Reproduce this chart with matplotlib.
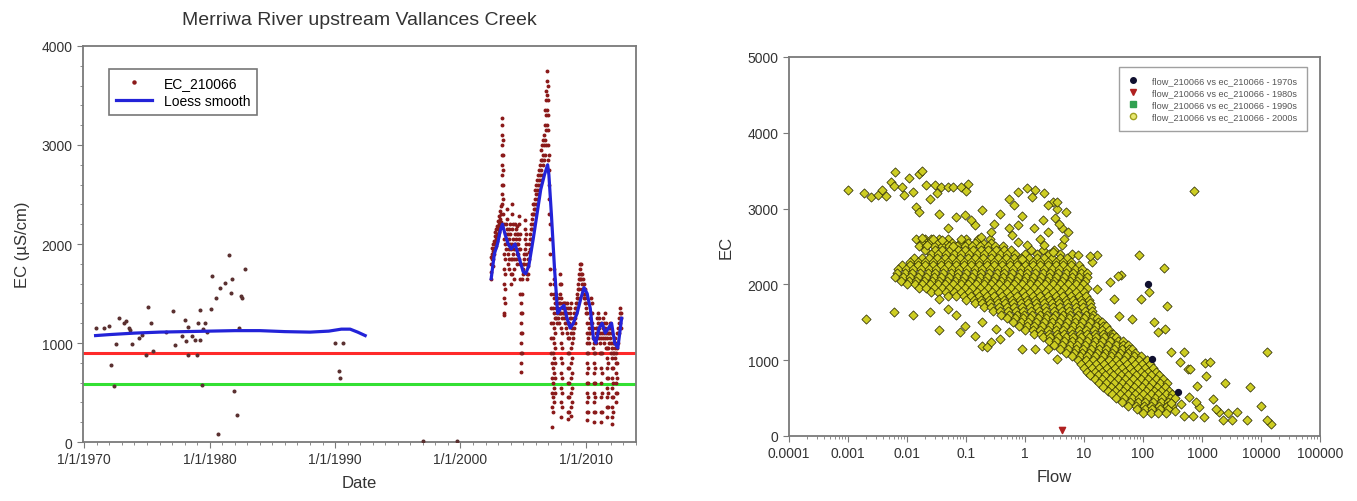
import numpy as np
import matplotlib
matplotlib.use("Agg")
import matplotlib.pyplot as plt
from matplotlib.lines import Line2D
from matplotlib.ticker import FixedLocator, MultipleLocator, LogLocator, NullFormatter

plt.rcParams['font.family'] = ['Liberation Sans', 'DejaVu Sans']

# ---------------- left panel: EC time series ----------------
early_years = [1970.95, 1971.6, 1971.96, 1972.15, 1972.36, 1972.5, 1972.76, 1973.15, 1973.3,
               1973.55, 1973.65, 1973.8, 1974.4, 1974.6, 1974.9, 1975.1, 1975.3, 1975.5, 1976.5,
               1977.1, 1977.2, 1977.8, 1978.0, 1978.1, 1978.25, 1978.3, 1978.6, 1978.85, 1978.98,
               1979.1, 1979.25, 1979.25, 1979.4, 1979.5, 1979.6, 1979.8, 1980.1, 1980.2, 1980.5,
               1980.7, 1980.8, 1981.2, 1981.55, 1981.7, 1981.75, 1981.9, 1982.2, 1982.35, 1982.5,
               1982.6, 1982.8, 1990.03, 1990.64, 1990.3, 1990.43, 1997.0, 1999.7]
early_ec = [1147, 1154, 1171, 775, 561, 995, 1256, 1198, 1221,
            1154, 1130, 995, 1046, 1080, 876, 1367, 1198, 920, 1107,
            1323, 978, 1073, 1232, 1018, 1164, 876, 1073, 1028, 876,
            1198, 1333, 1028, 579, 1140, 1198, 1107, 1343, 1672, 1452,
            81, 1553, 1611, 1885, 1503, 1648, 511, 274, 1147, 1479,
            1459, 1749, 1002, 1002, 718, 647, 10, 10]

# recent record, read as vertical streaks of readings (year, readings)
streak_years = [2002.45, 2002.52, 2002.6, 2002.68, 2002.76, 2002.84, 2002.92, 2003.0, 2003.08,
                2003.16, 2003.24, 2003.32, 2003.4, 2003.48, 2003.56, 2003.64, 2003.72, 2003.8,
                2003.88, 2003.96, 2004.04, 2004.12, 2004.2, 2004.28, 2004.36, 2004.44, 2004.52,
                2004.6, 2004.68, 2004.76, 2004.84, 2004.92, 2005.0, 2005.08, 2005.16, 2005.24,
                2005.32, 2005.4, 2005.48, 2005.56, 2005.64, 2005.72, 2005.8, 2005.88, 2005.96,
                2006.04, 2006.12, 2006.2, 2006.28, 2006.36, 2006.44, 2006.52, 2006.6, 2006.68,
                2006.76, 2006.84, 2006.92, 2007.0, 2007.08, 2007.16, 2007.24, 2007.32, 2007.4,
                2007.48, 2007.56, 2007.64, 2007.72, 2007.8, 2007.88, 2007.96, 2008.04, 2008.12,
                2008.2, 2008.28, 2008.36, 2008.44, 2008.52, 2008.6, 2008.68, 2008.76, 2008.84,
                2008.92, 2009.0, 2009.08, 2009.16, 2009.24, 2009.32, 2009.4, 2009.48, 2009.56,
                2009.64, 2009.72, 2009.8, 2009.88, 2009.96, 2010.04, 2010.12, 2010.2, 2010.28,
                2010.36, 2010.44, 2010.52, 2010.6, 2010.68, 2010.76, 2010.84, 2010.92, 2011.0,
                2011.08, 2011.16, 2011.24, 2011.32, 2011.4, 2011.48, 2011.56, 2011.64, 2011.72,
                2011.8, 2011.88, 2011.96, 2012.04, 2012.12, 2012.2, 2012.28, 2012.36, 2012.44,
                2012.52, 2012.6, 2012.68, 2012.76, 2012.84]
streak_ec = [[1650, 1720, 1800, 1870], [1900, 1960, 1850], [1780, 1850, 1930, 2000], [1950, 2030, 1900],
             [2000, 2080, 1960, 2120], [2050, 2150, 1980], [2100, 2180, 2030], [2150, 2230, 2080],
             [2200, 2280, 2120], [2250, 2180, 2330], [2300, 2220, 2380],
             [2400, 2500, 2600, 2700, 2800, 2900, 3000, 3100, 3200, 3270],
             [3050, 2900, 2750, 2600, 2450, 2300],
             [2200, 2050, 1900, 1750, 1600, 1450, 1300, 1280],
             [1400, 1550, 1700, 1850, 2000], [2100, 2200, 1950], [2250, 2350, 2150, 2050],
             [2000, 1900, 1800, 2100], [1750, 1850, 1950, 2050, 2150], [2200, 2100, 2000],
             [1950, 1850, 1700, 1600], [1700, 1850, 2000, 2150, 2300, 2400], [2200, 2050, 1900],
             [1850, 1750, 1650, 1950], [2000, 2100, 2200], [2150, 2050, 1950, 1850],
             [1800, 1900, 2000, 2100, 2180], [2100, 2000, 1900], [1850, 1950, 2050, 2200, 2280],
             [2100, 1950, 1800, 1650, 1500], [1400, 1300, 1200, 1100, 1000, 900, 800, 710],
             [900, 1100, 1300, 1500, 1650], [1700, 1800, 1750], [1800, 1900, 1850],
             [1950, 2050, 2150, 2240], [2100, 2000, 1900], [1800, 1700, 1650], [1700, 1780, 1850],
             [1850, 1920, 2000], [1950, 2050, 2100], [2050, 2150, 2200], [2150, 2250, 2300],
             [2200, 2300, 2400], [2300, 2400, 2350], [2350, 2450, 2550], [2400, 2500, 2600],
             [2450, 2550, 2650], [2500, 2600, 2700], [2550, 2650, 2750], [2600, 2700, 2800],
             [2650, 2750, 2850, 2950], [2700, 2850, 3000], [2800, 2900, 3050], [2850, 3000, 3100],
             [2900, 3050, 3200, 3350], [3000, 3150, 3300, 3450, 3550], [3200, 3350, 3500, 3650, 3750],
             [3600, 3450, 3300, 3150, 3000, 2850], [2900, 2750, 2600, 2450, 2300],
             [2200, 2050, 1900, 1750, 1600], [1500, 1350, 1200, 1050, 900], [800, 650, 500, 350, 150],
             [300, 450, 600, 750, 900, 1050, 1200, 1350],
             [1500, 1650, 1750, 1600, 1450, 1300, 1150, 1000, 850, 700, 550, 400],
             [500, 650, 800, 950, 1100, 1250, 1400], [1400, 1500, 1350, 1250], [1300, 1400, 1200],
             [1250, 1350, 1450], [1400, 1300, 1200], [1300, 1400, 1500, 1600, 1700],
             [1600, 1450, 1300, 1150, 1000, 850, 700, 550, 400, 250],
             [350, 500, 650, 800, 950, 1100, 1250], [1300, 1400, 1350], [1400, 1300, 1250],
             [1200, 1300, 1400], [1350, 1250, 1150], [1100, 1200, 1300, 1400],
             [1350, 1200, 1050, 900, 750, 600, 450, 300, 230], [300, 450, 600, 750, 900, 1050, 1200],
             [1250, 1350, 1300], [1400, 1250, 1100, 950, 800, 650, 500, 350, 260],
             [400, 550, 700, 850, 1000, 1150], [1100, 1200, 1050], [1150, 1250, 1300],
             [1250, 1350, 1200], [1300, 1400, 1350], [1400, 1500, 1450], [1450, 1550, 1600],
             [1550, 1650, 1700], [1650, 1750, 1800], [1700, 1800, 1650], [1600, 1700, 1550],
             [1550, 1650, 1500], [1500, 1600, 1450], [1450, 1550, 1400], [1400, 1500, 1350, 1300],
             [1300, 1200, 1100, 1000, 900, 800, 700, 600, 500, 400, 300, 220],
             [300, 450, 600, 750, 900, 1050], [1000, 1100, 1150], [1100, 1200, 1250],
             [1150, 1300, 1450], [1400, 1300, 1200], [1150, 1050, 950],
             [1000, 900, 800, 700, 600, 500, 400, 300, 200], [300, 450, 600, 750, 900, 1050],
             [1100, 1000, 1150], [1050, 1150, 1250], [1100, 1200, 1300], [1250, 1150, 1050],
             [1000, 1100, 900], [1200, 1050, 900, 750, 600, 450, 300, 200], [300, 500, 700, 900, 1100],
             [1050, 1150, 1250], [1200, 1100, 1000], [1050, 1150, 1300], [1200, 1100, 950],
             [1050, 950, 850, 750, 650, 550, 450, 350, 250], [350, 500, 650, 800, 950, 1100],
             [1000, 1100, 1150], [1050, 1150, 1200], [1100, 1000, 900],
             [950, 850, 750, 650, 550, 450, 350, 250, 180], [300, 450, 600, 750, 900, 1000],
             [900, 1000, 1050], [950, 850, 1050], [1000, 900, 800, 700, 600, 500, 400],
             [500, 650, 800, 950, 1100], [1000, 1100, 1150], [1100, 1200, 1250],
             [1200, 1300, 1350], [1300, 1250, 1150]]

loess_early_years = [1970.9, 1972, 1974, 1976, 1978, 1980, 1982, 1984, 1986, 1988, 1989.5,
                     1990.5, 1991.2, 1991.8, 1992.4]
loess_early_ec = [1075, 1085, 1100, 1110, 1115, 1120, 1125, 1125, 1115, 1110, 1120, 1140,
                  1140, 1110, 1075]
loess_late_years = [2002.45, 2002.7, 2002.95, 2003.2, 2003.35, 2003.55, 2003.8, 2004.05, 2004.35,
                    2004.7, 2005.0, 2005.2, 2005.45, 2005.8, 2006.1, 2006.4, 2006.7, 2006.95,
                    2007.05, 2007.25, 2007.5, 2007.75, 2008.0, 2008.25, 2008.5, 2008.75, 2009.0,
                    2009.3, 2009.6, 2009.85, 2010.1, 2010.35, 2010.6, 2010.8, 2011.05, 2011.3,
                    2011.55, 2011.8, 2012.05, 2012.3, 2012.55, 2012.85]
loess_late_ec = [1650, 1900, 2000, 2150, 2200, 2100, 2000, 1950, 2000, 1850, 1720, 1700, 1780,
                 2050, 2300, 2550, 2700, 2800, 2700, 2300, 1750, 1300, 1350, 1380, 1250, 1150,
                 1200, 1300, 1450, 1560, 1500, 1350, 1050, 1000, 1150, 1200, 1100, 1150, 1200,
                 1000, 950, 1250]

red_level = 900
green_level = 590
decade_ticks = [1970, 1980, 1990, 2000, 2010]

# ---------------- right panel: flow vs EC ----------------
# sparse / edge points (flow, EC)
edge_flow = [0.001, 0.0019, 0.0025, 0.0032, 0.0038, 0.0045, 0.0054, 0.006, 0.0063, 0.0081, 0.009,
             0.011, 0.0126, 0.014, 0.016, 0.016, 0.018, 0.021, 0.025, 0.03, 0.032, 0.038, 0.049,
             0.06, 0.083, 0.1, 0.107,
             0.035, 0.069, 0.098, 0.19, 0.38, 0.049, 0.083, 0.14, 0.27, 0.54, 0.76, 0.12, 0.3,
             0.6, 0.028, 0.04, 0.018, 0.022, 0.06, 0.18,
             0.54, 0.76, 1.07, 1.5, 2.1, 2.95, 3.5, 3.2, 4.2, 2.5, 1.8, 1.07, 0.76, 0.89, 3.5,
             5.0, 5.4, 4.2, 2.95, 2.1, 0.65, 0.9, 1.3, 2.5, 3.8, 4.6, 1.4, 2.0,
             0.002, 0.006, 0.0126, 0.025, 0.035, 0.035, 0.069, 0.049, 0.098, 0.14, 0.19, 0.27,
             0.38, 0.23, 0.9, 1.5, 2.5, 3.5, 0.54, 0.19, 0.32, 0.08,
             16.6, 13.8, 42, 27.5, 91, 65, 151, 126, 251, 178, 302, 417, 589, 32, 16.6, 39, 87,
             224, 38, 8, 12.6, 240, 500, 1120,
             12800, 15000, 12900, 10000, 6500, 5900, 3900, 3200, 2300, 2500, 1950, 1350, 1170,
             1510, 1070, 830, 710, 740, 620, 500, 450, 900, 1700, 2800, 600, 800, 350, 300]
edge_ec = [3250, 3200, 3150, 3180, 3240, 3160, 3350, 3300, 3480, 3290, 3180,
           3400, 3220, 3020, 3460, 2960, 3500, 3310, 3130, 3310, 3200, 3290, 3290,
           3280, 3290, 3230, 3330,
           2935, 2890, 2910, 2980, 2935, 2740, 2600, 2780, 2690, 2740, 2780, 2850, 2800,
           2650, 2600, 2580, 2610, 2520, 2500, 2620,
           3130, 3220, 3270, 3240, 3200, 3090, 3000, 2870, 2740, 2690, 2600, 2520, 2560, 2340, 3090,
           2960, 2690, 2520, 2430, 2520, 3050, 2900, 3150, 3050, 2800, 2600, 2750, 2850,
           1540, 1630, 1600, 1640, 1395, 1810, 1590, 1677, 1456, 1324, 1190, 1236,
           1280, 1170, 1147, 1147, 1150, 1015, 1368, 1500, 1410, 1370,
           2383, 2295, 2118, 2030, 1809, 1545, 1500, 1898, 1721, 1368, 1103, 971, 883, 1809, 1942,
           1589, 2385, 2213, 2112, 2385, 2376, 1408, 1113, 968,
           1110, 155, 210, 400, 640, 210, 320, 210, 210, 700, 310, 970, 790,
           485, 245, 660, 265, 3235, 880, 265, 420, 380, 360, 300, 520, 450, 330, 440]

# dense core of the cloud, read row by row: EC level and log10(flow) of the markers
core_ec = [2600, 2550, 2500, 2450, 2400, 2350, 2300, 2250, 2200, 2150, 2100, 2050, 2000, 1950,
           1900, 1850, 1800, 1750, 1700, 1650, 1600, 1550, 1500, 1450, 1400, 1350, 1300, 1250,
           1200, 1150, 1100, 1050, 1000, 950, 900, 850, 800, 750, 700, 650, 600, 550, 500, 450,
           400, 350, 300]
core_logflow = [
    [-1.85, -1.7, -1.6, -1.45, -1.3, -1.0, -0.8, -0.6],
    [-1.75, -1.62, -1.49, -1.36, -1.23, -1.1, -0.97, -0.84, -0.71, -0.58],
    [-1.8, -1.67, -1.54, -1.41, -1.28, -1.15, -1.02, -0.89, -0.76, -0.63, -0.5, -0.37],
    [-1.7, -1.53, -1.4, -1.27, -1.14, -1.01, -0.88, -0.75, -0.62, -0.49, -0.36, -0.23, 0.1, 0.3,
     0.5],
    [-1.6, -1.47, -1.34, -1.21, -1.08, -0.95, -0.82, -0.69, -0.56, -0.43, -0.3, -0.17, 0.0, 0.2,
     0.4, 0.6, 0.8],
    [-1.88, -1.75, -1.62, -1.49, -1.36, -1.23, -1.1, -0.97, -0.84, -0.71, -0.58, -0.45, -0.32,
     -0.19, -0.06, 0.07, 0.2, 0.33, 0.46, 0.59, 0.72],
    [-1.95, -1.82, -1.69, -1.56, -1.43, -1.3, -1.17, -1.04, -0.91, -0.78, -0.65, -0.52, -0.39,
     -0.26, -0.13, 0.0, 0.13, 0.26, 0.39, 0.52, 0.65, 0.78],
    [-2.08, -1.95, -1.82, -1.69, -1.56, -1.43, -1.3, -1.17, -1.04, -0.91, -0.78, -0.65, -0.52,
     -0.39, -0.26, -0.13, 0.0, 0.13, 0.26, 0.39, 0.52, 0.65, 0.78, 0.91],
    [-2.15, -2.02, -1.89, -1.76, -1.63, -1.5, -1.37, -1.24, -1.11, -0.98, -0.85, -0.72, -0.59,
     -0.46, -0.33, -0.2, -0.07, 0.06, 0.19, 0.32, 0.45, 0.58, 0.71, 0.84, 0.97],
    [-2.17, -2.04, -1.91, -1.78, -1.65, -1.52, -1.39, -1.26, -1.13, -1.0, -0.87, -0.74, -0.61,
     -0.48, -0.35, -0.22, -0.09, 0.04, 0.17, 0.3, 0.43, 0.56, 0.69, 0.82, 0.95, 1.05],
    [-2.2, -2.07, -1.94, -1.81, -1.68, -1.55, -1.42, -1.29, -1.16, -1.03, -0.9, -0.77, -0.64,
     -0.51, -0.38, -0.25, -0.12, 0.01, 0.14, 0.27, 0.4, 0.53, 0.66, 0.79, 0.92, 1.05],
    [-2.1, -1.97, -1.84, -1.71, -1.58, -1.45, -1.32, -1.19, -1.06, -0.93, -0.8, -0.67, -0.54,
     -0.41, -0.28, -0.15, -0.02, 0.11, 0.24, 0.37, 0.5, 0.63, 0.76, 0.89, 1.02],
    [-2.0, -1.87, -1.74, -1.61, -1.48, -1.35, -1.22, -1.09, -0.96, -0.83, -0.7, -0.57, -0.44,
     -0.31, -0.18, -0.05, 0.08, 0.21, 0.34, 0.47, 0.6, 0.73, 0.86, 0.99],
    [-1.8, -1.67, -1.54, -1.41, -1.28, -1.15, -1.02, -0.89, -0.76, -0.63, -0.5, -0.37, -0.24,
     -0.11, 0.02, 0.15, 0.28, 0.41, 0.54, 0.67, 0.8, 0.93, 1.05],
    [-1.6, -1.47, -1.34, -1.21, -1.08, -0.95, -0.82, -0.69, -0.56, -0.43, -0.3, -0.17, -0.04,
     0.09, 0.22, 0.35, 0.48, 0.61, 0.74, 0.87, 1.0],
    [-1.3, -1.17, -1.04, -0.91, -0.78, -0.65, -0.52, -0.39, -0.26, -0.13, 0.0, 0.13, 0.26, 0.39,
     0.52, 0.65, 0.78, 0.91, 1.04],
    [-1.0, -0.87, -0.74, -0.61, -0.48, -0.35, -0.22, -0.09, 0.04, 0.17, 0.3, 0.43, 0.56, 0.69,
     0.82, 0.95, 1.08],
    [-0.85, -0.72, -0.59, -0.46, -0.33, -0.2, -0.07, 0.06, 0.19, 0.32, 0.45, 0.58, 0.71, 0.84,
     0.97, 1.1],
    [-0.7, -0.57, -0.44, -0.31, -0.18, -0.05, 0.08, 0.21, 0.34, 0.47, 0.6, 0.73, 0.86, 0.99, 1.12],
    [-0.55, -0.42, -0.29, -0.16, -0.03, 0.1, 0.23, 0.36, 0.49, 0.62, 0.75, 0.88, 1.01, 1.14],
    [-0.4, -0.27, -0.14, -0.01, 0.12, 0.25, 0.38, 0.51, 0.64, 0.77, 0.9, 1.03, 1.16],
    [-0.3, -0.17, -0.04, 0.09, 0.22, 0.35, 0.48, 0.61, 0.74, 0.87, 1.0, 1.13, 1.22],
    [-0.2, -0.07, 0.06, 0.19, 0.32, 0.45, 0.58, 0.71, 0.84, 0.97, 1.1, 1.23, 1.3],
    [-0.1, 0.03, 0.16, 0.29, 0.42, 0.55, 0.68, 0.81, 0.94, 1.07, 1.2, 1.33, 1.38],
    [0.0, 0.13, 0.26, 0.39, 0.52, 0.65, 0.78, 0.91, 1.04, 1.17, 1.3, 1.43],
    [0.15, 0.28, 0.41, 0.54, 0.67, 0.8, 0.93, 1.06, 1.19, 1.32, 1.45, 1.5],
    [0.3, 0.43, 0.56, 0.69, 0.82, 0.95, 1.08, 1.21, 1.34, 1.47, 1.55],
    [0.4, 0.53, 0.66, 0.79, 0.92, 1.05, 1.18, 1.31, 1.44, 1.57, 1.66],
    [0.5, 0.63, 0.76, 0.89, 1.02, 1.15, 1.28, 1.41, 1.54, 1.67, 1.75],
    [0.6, 0.73, 0.86, 0.99, 1.12, 1.25, 1.38, 1.51, 1.64, 1.77, 1.82],
    [0.7, 0.83, 0.96, 1.09, 1.22, 1.35, 1.48, 1.61, 1.74, 1.87],
    [0.8, 0.93, 1.06, 1.19, 1.32, 1.45, 1.58, 1.71, 1.84, 1.97],
    [0.9, 1.03, 1.16, 1.29, 1.42, 1.55, 1.68, 1.81, 1.94, 2.07],
    [0.95, 1.08, 1.21, 1.34, 1.47, 1.6, 1.73, 1.86, 1.99, 2.12],
    [1.0, 1.13, 1.26, 1.39, 1.52, 1.65, 1.78, 1.91, 2.04, 2.17],
    [1.05, 1.18, 1.31, 1.44, 1.57, 1.7, 1.83, 1.96, 2.09, 2.22],
    [1.1, 1.23, 1.36, 1.49, 1.62, 1.75, 1.88, 2.01, 2.14, 2.27],
    [1.18, 1.31, 1.44, 1.57, 1.7, 1.83, 1.96, 2.09, 2.22, 2.34],
    [1.25, 1.38, 1.51, 1.64, 1.77, 1.9, 2.03, 2.16, 2.29, 2.4],
    [1.33, 1.46, 1.59, 1.72, 1.85, 1.98, 2.11, 2.24, 2.37],
    [1.4, 1.53, 1.66, 1.79, 1.92, 2.05, 2.18, 2.31, 2.44],
    [1.48, 1.61, 1.74, 1.87, 2.0, 2.13, 2.26, 2.39, 2.5],
    [1.55, 1.68, 1.81, 1.94, 2.07, 2.2, 2.33, 2.46, 2.55],
    [1.65, 1.78, 1.91, 2.04, 2.17, 2.3, 2.43],
    [1.75, 1.88, 2.01, 2.14, 2.27, 2.4, 2.5],
    [1.9, 2.03, 2.16, 2.29, 2.42],
    [2.0, 2.13, 2.26, 2.39],
]

flow_1970s = [120, 140, 400]
ec_1970s = [2010, 1020, 575]
flow_1980s = [4.2]
ec_1980s = [75]
flow_1990s = []
ec_1990s = []

legend_labels = ['flow_210066 vs ec_210066 - 1970s', 'flow_210066 vs ec_210066 - 1980s',
                 'flow_210066 vs ec_210066 - 1990s', 'flow_210066 vs ec_210066 - 2000s']

# ---------------- figure ----------------
fig = plt.figure(figsize=(13.57, 5.02), dpi=100)
ax1 = fig.add_axes([0.0612, 0.1175, 0.4075, 0.7889])
ax2 = fig.add_axes([0.5814, 0.1295, 0.3913, 0.755])

spine_col = '#7a7a7a'
dot_col = '#8b1a1a'

# left
late_x = []
late_y = []
for yr, vals in zip(streak_years, streak_ec):
    for v in vals:
        late_x.append(yr)
        late_y.append(v)

ax1.axhline(red_level, color='#ff2a2a', lw=2.2, zorder=2)
ax1.axhline(green_level, color='#33e033', lw=2.2, zorder=2)
ax1.plot(early_years, early_ec, ls='none', marker='o', ms=1.9, color='#5a3030', zorder=3)
ax1.plot(late_x, late_y, ls='none', marker='o', ms=1.8, color=dot_col, zorder=3)
ax1.plot(loess_early_years, loess_early_ec, color='#2323d8', lw=2.3, zorder=4)
ax1.plot(loess_late_years, loess_late_ec, color='#2323d8', lw=2.3, zorder=4)

ax1.set_xlim(1969.9, 2014)
ax1.set_ylim(0, 4000)
ax1.xaxis.set_major_locator(FixedLocator(decade_ticks))
ax1.set_xticklabels(['1/1/%d' % y for y in decade_ticks])
ax1.xaxis.set_minor_locator(MultipleLocator(1))
ax1.yaxis.set_major_locator(MultipleLocator(1000))
ax1.yaxis.set_minor_locator(MultipleLocator(200))
ax1.tick_params(axis='both', which='major', labelsize=10, color=spine_col, length=4,
                labelcolor='#333333')
ax1.tick_params(axis='both', which='minor', color=spine_col, length=2.5)
for s in ax1.spines.values():
    s.set_color(spine_col)
    s.set_linewidth(1.3)
ax1.set_xlabel('Date', fontsize=12, color='#333333', labelpad=6)
ax1.set_ylabel('EC (\u00b5S/cm)', fontsize=12, color='#333333', labelpad=8)
ax1.set_title('Merriwa River upstream Vallances Creek', fontsize=14, color='#333333', pad=16)

h1 = [Line2D([], [], ls='none', marker='o', ms=2.2, color=dot_col),
      Line2D([], [], color='#2323d8', lw=2.3)]
leg1 = ax1.legend(h1, ['EC_210066', 'Loess smooth'], loc='upper left',
                  bbox_to_anchor=(0.035, 0.96), fontsize=10, frameon=True, fancybox=False,
                  handlelength=2.6, borderpad=0.5, labelspacing=0.3)
leg1.get_frame().set_edgecolor('#555555')
leg1.get_frame().set_linewidth(1.2)

# right
core_x = []
core_y = []
for ec, logs in zip(core_ec, core_logflow):
    for lg in logs:
        core_x.append(10 ** lg)
        core_y.append(ec)

yellow = '#cdcd22'
olive_edge = '#2e2e04'
ax2.scatter(core_x, core_y, marker='D', s=22, facecolor=yellow, edgecolor=olive_edge,
            linewidth=0.55, zorder=3)
ax2.scatter(edge_flow, edge_ec, marker='D', s=22, facecolor=yellow, edgecolor=olive_edge,
            linewidth=0.55, zorder=3)
ax2.scatter(flow_1970s, ec_1970s, marker='o', s=18, color='#101030', zorder=4)
ax2.scatter(flow_1980s, ec_1980s, marker='v', s=20, color='#b02020', zorder=4)
ax2.scatter(flow_1990s, ec_1990s, marker='s', s=18, color='#30a050', zorder=4)

ax2.set_xscale('log')
ax2.set_xlim(1e-4, 1e5)
ax2.set_ylim(0, 5000)
ax2.xaxis.set_major_locator(LogLocator(base=10, numticks=20))
ax2.xaxis.set_minor_locator(LogLocator(base=10, subs=np.arange(2, 10), numticks=20))
ax2.xaxis.set_minor_formatter(NullFormatter())
ax2.set_xticks([1e-4, 1e-3, 1e-2, 1e-1, 1, 10, 100, 1000, 10000, 100000])
ax2.set_xticklabels(['0.0001', '0.001', '0.01', '0.1', '1', '10', '100', '1000', '10000',
                     '100000'])
ax2.yaxis.set_major_locator(MultipleLocator(1000))
ax2.tick_params(axis='both', which='major', labelsize=10, color=spine_col, length=4,
                labelcolor='#333333')
ax2.tick_params(axis='both', which='minor', color=spine_col, length=2.5)
for s in ax2.spines.values():
    s.set_color(spine_col)
    s.set_linewidth(1.3)
ax2.set_xlabel('Flow', fontsize=12, color='#333333', labelpad=6)
ax2.set_ylabel('EC', fontsize=12, color='#333333', labelpad=10)

h2 = [Line2D([], [], ls='none', marker='o', ms=4, color='#101030'),
      Line2D([], [], ls='none', marker='v', ms=4, color='#b02020'),
      Line2D([], [], ls='none', marker='s', ms=4, color='#30a050'),
      Line2D([], [], ls='none', marker='o', ms=4.5, markerfacecolor='#e8e870',
             markeredgecolor='#a0a020')]
leg2 = ax2.legend(h2, legend_labels, loc='upper right', bbox_to_anchor=(0.975, 0.974),
                  fontsize=6.6, frameon=True, fancybox=False, handlelength=1.0,
                  borderpad=1.0, labelspacing=0.35, handletextpad=1.6, borderaxespad=0)
leg2.get_frame().set_edgecolor('#888888')
leg2.get_frame().set_linewidth(1.0)
for t in leg2.get_texts():
    t.set_color('#555555')

fig.savefig('out.png', dpi=100)
